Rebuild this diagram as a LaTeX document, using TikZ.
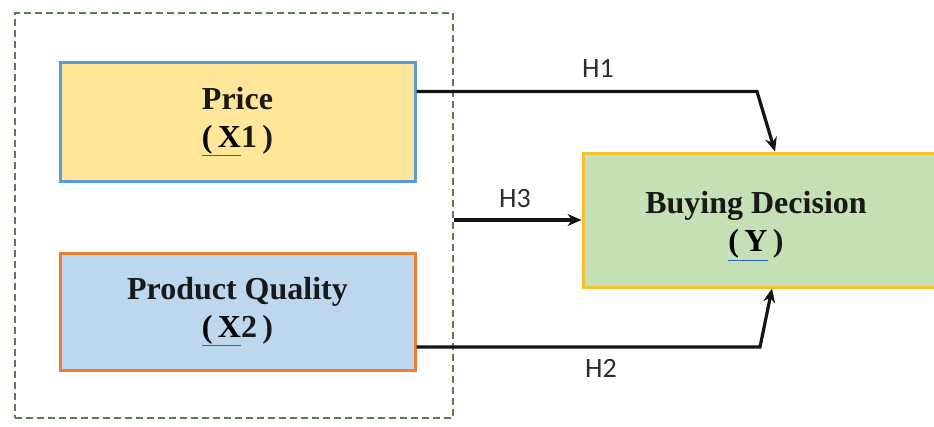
\documentclass[tikz,border=0pt]{standalone}
\usepackage{fontspec}
\setmainfont{Liberation Serif}
\newfontfamily\labfont{Carlito}
\usetikzlibrary{arrows.meta}
\definecolor{pricefill}{HTML}{FFE699}
\definecolor{pricedraw}{HTML}{5B9BD5}
\definecolor{pqfill}{HTML}{BDD7EE}
\definecolor{pqdraw}{HTML}{ED7D31}
\definecolor{yfill}{HTML}{C5E0B4}
\definecolor{ydraw}{HTML}{F2C230}
\definecolor{grpdraw}{HTML}{5E7D4C}
\definecolor{ulblue}{HTML}{2E64B8}
\definecolor{labgray}{HTML}{2E2E2E}
\newcommand{\ulx}[1]{{\color{ulblue}\underline{\color{black}#1}}}
\tikzset{
  varbox/.style={rectangle, line width=3pt, inner sep=0pt},
  boxtext/.style={align=center, font=\fontsize{32}{38}\selectfont\bfseries, text=black!90},
  grpbox/.style={rectangle, draw=grpdraw, line width=2.4pt, dash pattern=on 7pt off 4pt, inner sep=0pt},
  arr/.style={line width=3.2pt, black!92, -{Stealth[length=14pt,width=12pt]}},
  hlab/.style={font=\labfont\fontsize{28}{30}\selectfont, text=labgray, inner sep=0pt}
}
\begin{document}
\begin{tikzpicture}[x=1pt,y=-1pt]
\clip (0,0) rectangle (934,426);
\fill[white] (0,0) rectangle (934,426);
% group
\node[grpbox, minimum width=438pt, minimum height=405pt] (g) at (234,215.5) {};
% variable boxes
\node[varbox, fill=pricefill, draw=pricedraw, minimum width=355pt, minimum height=119pt, boxtext] (p) at (237.5,121.5) {Price\\\ulx{(\,X}1\,)};
\node[varbox, fill=pqfill, draw=pqdraw, minimum width=355pt, minimum height=117pt, boxtext] (q) at (237.5,311.5) {Product Quality\\\ulx{(\,X}2\,)};
\node[varbox, fill=yfill, draw=ydraw, minimum width=380pt, minimum height=134pt] (y) at (773,220) {};
\node[boxtext] (yt) at (756,226) {Buying Decision\\\ulx{(\,Y}\,)};
% connectors
\coordinate (c1) at (757,91.5);
\coordinate (c2) at (760,347);
\draw[arr] ([yshift=30pt]p.east) -- (c1) -- (775,0 |- y.north);
\draw[arr] ([yshift=-35.5pt]q.east) -- (c2) -- (772,0 |- y.south);
\draw[arr] (g.east |- y.west) -- (y.west);
% labels
\node[hlab] (h1) at (598,68) {H1};
\node[hlab] (h3) at (515,199) {H3};
\node[hlab] (h2) at (601,368) {H2};
\end{tikzpicture}
\end{document}
